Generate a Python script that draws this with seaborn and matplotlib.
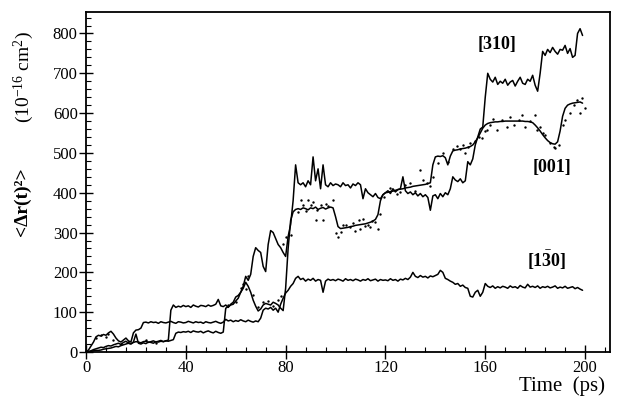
import numpy as np
import pandas as pd
import matplotlib
matplotlib.use("Agg")
import matplotlib.pyplot as plt
import seaborn as sns
from matplotlib.ticker import MultipleLocator, AutoMinorLocator

# Sampling times (ps) of the three trajectories
time_ps = list(range(200))

# Mean square displacement <dr(t)^2> in 1e-16 cm^2 for each direction
msd_310 = [
    0, 1, 3, 6, 8, 10, 12, 11, 14, 16,
    15, 18, 20, 22, 19, 24, 27, 22, 20, 24,
    26, 25, 23, 26, 27, 24, 26, 28, 25, 27,
    29, 26, 28, 30, 105, 118, 112, 115, 113, 117,
    114, 116, 112, 118, 115, 113, 117, 116, 114, 118,
    115, 117, 120, 132, 116, 114, 118, 112, 120, 125,
    138, 142, 150, 165, 190, 180, 195, 240, 262, 255,
    250, 215, 202, 270, 305, 300, 285, 270, 262, 250,
    240, 290, 320, 380, 470, 425, 420, 425, 415, 430,
    420, 490, 430, 460, 410, 470, 420, 415, 425, 418,
    422, 420, 415, 425, 418, 420, 412, 422, 418, 425,
    420, 385, 410, 400, 395, 390, 398, 388, 385, 395,
    400, 405, 398, 410, 402, 408, 410, 440, 405, 398,
    402, 395, 400, 392, 398, 390, 395, 388, 356, 392,
    395, 385, 398, 390, 400, 395, 410, 440, 432, 428,
    435, 425, 430, 478, 470, 485, 520, 540, 560, 565,
    640, 700, 685, 678, 690, 672, 680, 675, 685, 670,
    678, 682, 668, 680, 690, 675, 672, 685, 680, 695,
    670, 655, 700, 755, 745, 760, 752, 765, 755, 748,
    760, 758, 770, 750, 762, 740, 745, 800, 812, 795,
]

msd_001 = [
    0, 1, 2, 3, 4, 4, 5, 7, 8, 9,
    10, 12, 14, 13, 16, 18, 20, 22, 21, 25,
    45, 22, 20, 23, 21, 25, 24, 22, 26, 25,
    27, 26, 28, 27, 29, 31, 47, 50, 49, 51,
    50, 52, 49, 53, 51, 50, 52, 48, 51, 53,
    50, 48, 52, 49, 47, 50, 110, 114, 118, 120,
    128, 135, 150, 160, 175, 165, 150, 130, 115, 103,
    108, 118, 122, 120, 118, 125, 122, 118, 110, 104,
    160, 260, 330, 352, 358, 360, 358, 362, 360, 357,
    362, 360, 364, 358, 361, 363, 359, 362, 364, 362,
    340, 315, 310, 311, 312, 313, 315, 316, 318, 319,
    320, 321, 322, 324, 326, 329, 333, 345, 380, 395,
    400, 401, 403, 404, 406, 408, 409, 410, 412, 413,
    414, 416, 417, 418, 419, 420, 421, 423, 425, 470,
    490, 492, 491, 493, 488, 470, 492, 505, 507, 508,
    510, 511, 512, 514, 516, 520, 528, 538, 550, 562,
    570, 574, 576, 577, 578, 578, 579, 579, 580, 580,
    580, 580, 580, 580, 580, 580, 579, 579, 578, 576,
    570, 563, 555, 546, 538, 531, 526, 523, 522, 528,
    555, 592, 612, 620, 623, 625, 626, 627, 628, 625,
]

msd_1b30 = [
    0, 5, 15, 25, 38, 42, 40, 44, 42, 48,
    52, 45, 35, 28, 25, 30, 35, 28, 25, 48,
    55, 56, 60, 74, 75, 73, 76, 74, 75, 72,
    76, 74, 73, 75, 77, 74, 72, 76, 75, 73,
    74, 77, 75, 73, 76, 74, 75, 72, 76, 74,
    73, 75, 77, 74, 72, 75, 82, 78, 80, 76,
    79, 77, 81, 78, 76, 80, 77, 75, 78, 76,
    85, 105, 110, 108, 112, 105, 110, 100, 120, 135,
    148, 155, 165, 172, 185, 190, 182, 185, 178, 183,
    180, 185, 178, 182, 180, 150, 178, 183, 180, 182,
    179, 183, 181, 178, 184, 180, 182, 179, 183, 181,
    178, 182, 180, 184, 179, 181, 183, 178, 182, 180,
    181, 179, 184, 180, 182, 178, 183, 181, 185, 182,
    188, 200, 190, 187, 192, 188, 190, 186, 191, 189,
    192, 195, 205, 200, 185, 182, 178, 175, 170, 172,
    165, 168, 162, 160, 140, 138, 150, 155, 140, 150,
    172, 165, 162, 166, 160, 164, 161, 165, 163, 160,
    166, 162, 164, 160, 167, 163, 161, 170, 163, 165,
    162, 166, 160, 164, 162, 165, 161, 163, 166, 160,
    163, 161, 165, 160, 162, 164, 159, 162, 158, 155,
]

# Individual [001] samples scattered around the smoothed curve
dots_t = [
    4, 6, 8, 9, 11, 14, 17, 24, 28,
    57, 60, 62, 63, 64, 65, 67, 69, 71, 73, 75, 77, 78, 79, 80, 82,
    85, 86, 87, 88, 89, 90, 91, 92, 92.5, 94, 95, 96, 97, 99, 100.3, 101,
    102, 103, 104, 105.8, 107, 108, 109.6, 110, 111, 112, 113, 114, 114.6,
    116, 117, 118, 119.3,
    122, 124.6, 126, 128, 130, 132, 134, 135, 136.7, 138, 139,
    141, 143, 145, 147, 148.7, 150, 151, 152, 153, 154, 156, 157.4, 158.8, 160,
    160.6, 162, 163.3, 164.7, 166.7, 168.7, 170, 171.4, 173.4, 174.7, 176,
    178, 180, 180.7, 182, 183, 184, 186, 187.4, 188, 189.4, 191, 192, 194,
    195.4, 196.7, 198, 198.7, 200,
]
dots_v = [
    35, 42, 38, 45, 30, 20, 26, 30, 22,
    118, 125, 160, 170, 158, 190, 142, 112, 125, 128, 115, 130, 140, 270, 290, 295,
    352, 381, 370, 355, 381, 368, 377, 331, 356, 368, 331, 372, 366, 381, 300, 290,
    301, 318, 320, 314, 323, 305, 332, 310, 335, 316, 318, 314, 328,
    326, 310, 347, 390,
    411, 398, 402, 420, 425, 405, 457, 432, 424, 416, 440,
    475, 500, 478, 510, 517, 509, 520, 500, 515, 525, 530, 541, 537, 554,
    557, 570, 585, 557, 583, 566, 591, 570, 583, 595, 566,
    579, 595, 557, 566, 550, 545, 524, 516, 512, 520, 570, 583, 600,
    621, 634, 600, 638, 613,
]

curves = pd.DataFrame({
    "time": time_ps,
    "[310]": msd_310,
    "[001]": msd_001,
    "[1-30]": msd_1b30,
})

sns.set_theme(style="ticks")
plt.rcParams["font.family"] = ["Liberation Serif", "DejaVu Serif"]
plt.rcParams["mathtext.fontset"] = "custom"
plt.rcParams["mathtext.rm"] = "Liberation Serif"
plt.rcParams["mathtext.it"] = "Liberation Serif:italic"
plt.rcParams["mathtext.bf"] = "Liberation Serif:bold"
for key in ["text.color", "axes.labelcolor", "xtick.color", "ytick.color",
            "axes.edgecolor"]:
    plt.rcParams[key] = "black"

fig = plt.figure(figsize=(6.21, 3.98), dpi=100)
ax = fig.add_axes([0.1385, 0.1156, 0.8438, 0.8543])

for name in ["[310]", "[001]", "[1-30]"]:
    sns.lineplot(data=curves, x="time", y=name, ax=ax, color="black",
                 linewidth=1.1, estimator=None)
sns.scatterplot(x=dots_t, y=dots_v, ax=ax, color="black", s=3,
                linewidth=0, legend=False)

ax.set_xlim(0, 210)
ax.set_ylim(0, 854)
ax.xaxis.set_major_locator(MultipleLocator(40))
ax.yaxis.set_major_locator(MultipleLocator(100))
ax.xaxis.set_minor_locator(AutoMinorLocator(5))
ax.yaxis.set_minor_locator(AutoMinorLocator(5))
ax.set_xticks([0, 40, 80, 120, 160, 200])
ax.tick_params(which="major", direction="inout", length=10, width=1.0,
               labelsize=12, pad=1, colors="black", top=False, right=False)
ax.tick_params(which="minor", direction="in", length=3.5, width=0.8,
               colors="black", top=False, right=False)
for sp in ax.spines.values():
    sp.set_visible(True)
    sp.set_linewidth(1.3)
    sp.set_color("black")

ax.set_ylabel("")
ax.set_xlabel("Time  (ps)", loc="right", fontsize=15, color="black")
ax.xaxis.set_label_coords(0.99, -0.07)

fig.text(22 / 621, 1 - 202 / 398, "<\u0394r(t)\u00b2>", rotation=90,
         fontsize=14, fontweight="bold", ha="center", va="center",
         color="black")
fig.text(24 / 621, 1 - 77 / 398, r"(10$^{-16}$ cm$^{2}$)", rotation=90,
         fontsize=14, ha="center", va="center", color="black")

ax.text(164.8, 773, "[310]", fontsize=13, fontweight="bold",
        ha="center", va="center", color="black")
ax.text(186.8, 463, "[001]", fontsize=13, fontweight="bold",
        ha="center", va="center", color="black")
ax.text(184.8, 230, r"$\mathbf{[1}\bar{\mathbf{3}}\mathbf{0]}$", fontsize=13,
        ha="center", va="center", color="black")

fig.savefig("out.png", dpi=100, facecolor="white")
